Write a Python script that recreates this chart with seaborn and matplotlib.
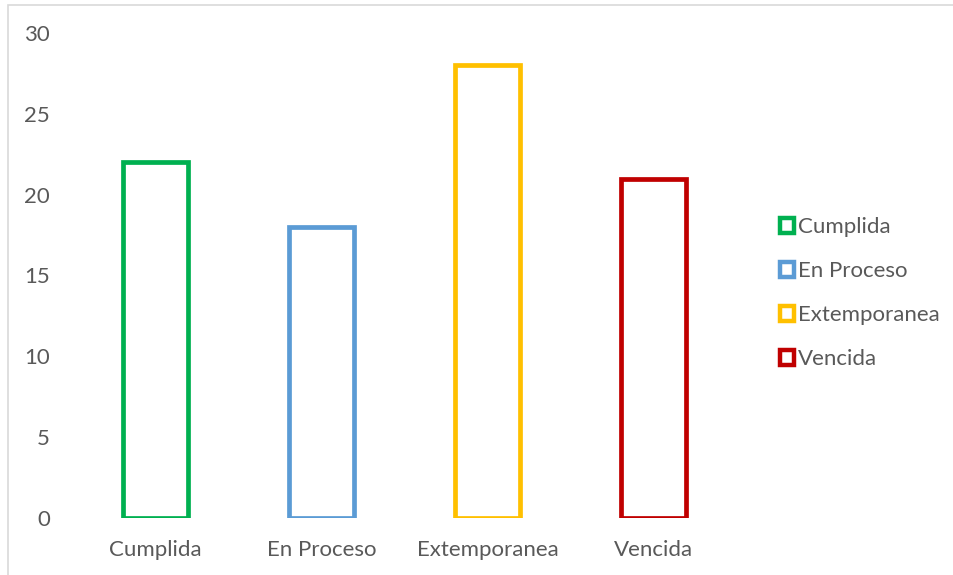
import matplotlib
matplotlib.use("Agg")
import matplotlib.pyplot as plt
import seaborn as sns
import pandas as pd
from matplotlib.patches import Patch, Rectangle

categories = ["Cumplida", "En Proceso", "Extemporanea", "Vencida"]
values = [22, 18, 28, 21]
colors = ["#00B050", "#5B9BD5", "#FFC000", "#C00000"]
yticks = [0, 5, 10, 15, 20, 25, 30]

sns.set_theme(style="white")
plt.rcParams['font.family'] = ['Lato', 'DejaVu Sans']

df = pd.DataFrame({"cat": categories, "val": values})

W, H = 954, 575
fig = plt.figure(figsize=(W / 100, H / 100), dpi=100)
ax = fig.add_axes([72 / W, 1 - 518 / H, (737 - 72) / W, (518 - 33) / H])

sns.barplot(data=df, x="cat", y="val", hue="cat", palette=colors, fill=False,
            linewidth=3.4, width=0.39, legend=False, ax=ax, order=categories,
            hue_order=categories)
for p, c in zip(ax.patches, colors):
    p.set_edgecolor(c)
    p.set_facecolor("white")

ax.set_xlim(-0.5, 3.5)
ax.set_ylim(0, 30)
ax.set_yticks(yticks)
ax.set_yticklabels([str(t) for t in yticks])
ax.set_xlabel("")
ax.set_ylabel("")
for s in ax.spines.values():
    s.set_visible(False)
ax.tick_params(axis="both", length=0, colors="#595959", labelsize=16)
ax.tick_params(axis="y", pad=16)
ax.tick_params(axis="x", pad=16)
ax.grid(False)

handles = [Patch(facecolor="white", edgecolor=c, linewidth=3.2, label=l)
           for c, l in zip(colors, categories)]
leg = fig.legend(handles=handles, loc="upper left", bbox_to_anchor=(760 / W, 1 - 197 / H),
                 frameon=False, fontsize=16, handlelength=0.65, handleheight=0.65,
                 handletextpad=0.15, labelspacing=1.08, labelcolor="#595959")

fig.patches.append(Rectangle((8 / W, -0.1), 1.2, 1 - 5 / H + 0.1, transform=fig.transFigure,
                             fill=False, edgecolor="#D9D9D9", linewidth=1.2))

fig.savefig("out.png", dpi=100)
